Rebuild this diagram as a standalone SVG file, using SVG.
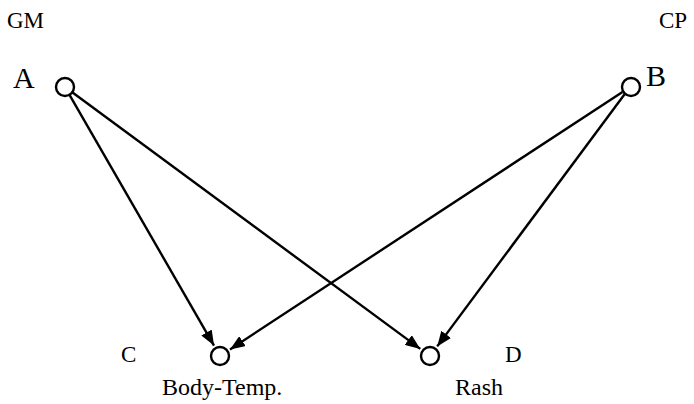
<svg xmlns="http://www.w3.org/2000/svg" width="694" height="404" viewBox="0 0 694 404">
<style>
.lbl{font-family:"Liberation Serif","Times New Roman",serif;font-size:23px;fill:#000}
.mid{font-size:24px}
.big{font-size:30px}
.node circle{fill:#fff;stroke:#000;stroke-width:2.4}
.edge{stroke:#000;stroke-width:2.4;fill:none;marker-end:url(#ah)}
</style>
<defs>
<marker id="ah" markerUnits="userSpaceOnUse" markerWidth="16" markerHeight="12" refX="15" refY="6" orient="auto">
<path d="M0,0 L15,6 L0,12 z" fill="#000"/>
</marker>
</defs>
<rect width="694" height="404" fill="#fff"/>
<text class="lbl" x="7" y="28">GM</text>
<text class="lbl" x="659" y="28">CP</text>
<g id="connectors">
<line class="edge" x1="69.5" y1="94.8" x2="214" y2="345.6"/>
<line class="edge" x1="72.2" y1="92.3" x2="420.3" y2="348.9"/>
<line class="edge" x1="622.5" y1="91.9" x2="230" y2="349.4"/>
<line class="edge" x1="624.6" y1="94.2" x2="437.2" y2="346.4"/>
</g>
<g id="A" class="node"><circle cx="65" cy="87" r="9"/><text class="lbl big" x="13" y="88">A</text></g>
<g id="B" class="node"><circle cx="631" cy="87" r="9"/><text class="lbl big" x="646" y="86">B</text></g>
<g id="C" class="node"><circle cx="220" cy="356" r="9"/><text class="lbl" x="121" y="362">C</text><text class="lbl mid" x="162" y="395">Body-Temp.</text></g>
<g id="D" class="node"><circle cx="430" cy="356" r="9"/><text class="lbl" x="505" y="362">D</text><text class="lbl mid" x="455" y="395">Rash</text></g>
</svg>
